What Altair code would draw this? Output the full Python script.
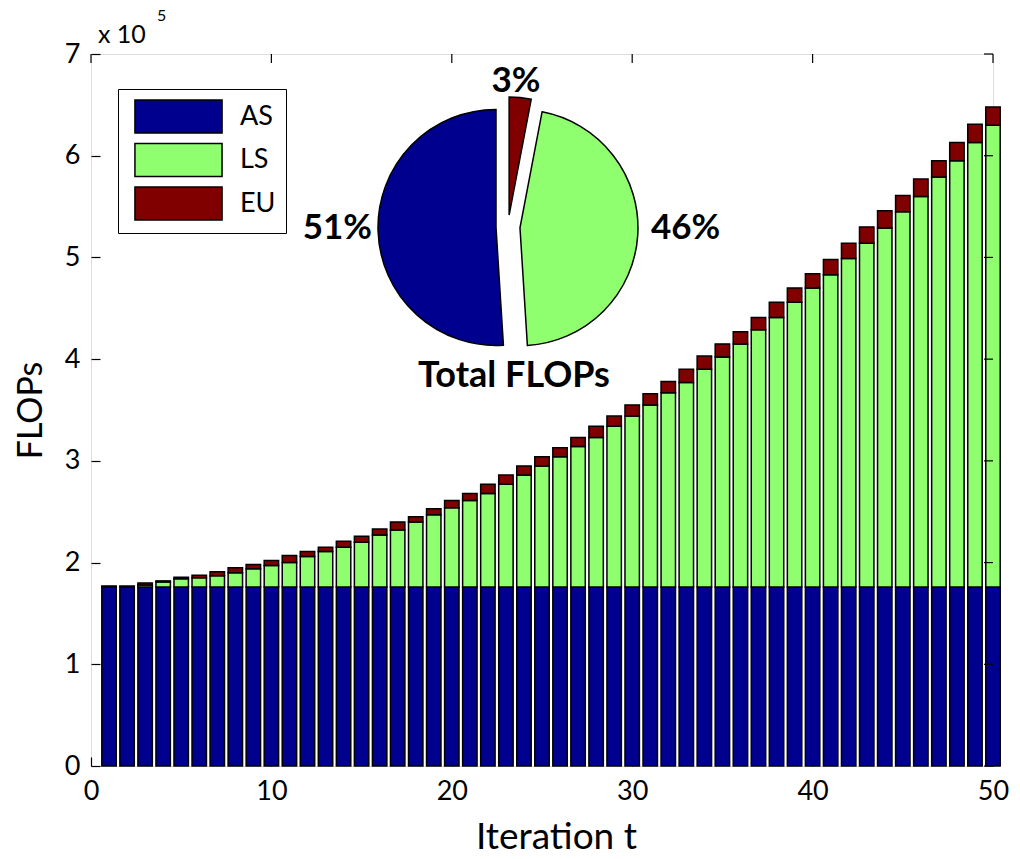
import math
import altair as alt
import pandas as pd

# ---------------- data (FLOPs in units of 1e5) ----------------
iterations = list(range(1, 51))
series = ["AS", "LS", "EU"]
colors = ["#00008F", "#8FFF70", "#800000"]

as_flops = [1.76] * 50
ls_flops = [0.00, 0.00, 0.02, 0.05, 0.08, 0.09, 0.11, 0.14, 0.18, 0.21,
            0.24, 0.30, 0.35, 0.39, 0.44, 0.51, 0.56, 0.64, 0.71, 0.78,
            0.85, 0.92, 1.01, 1.10, 1.19, 1.28, 1.38, 1.47, 1.58, 1.68,
            1.79, 1.91, 2.01, 2.14, 2.26, 2.39, 2.53, 2.65, 2.80, 2.94,
            3.07, 3.23, 3.38, 3.53, 3.69, 3.84, 4.03, 4.19, 4.37, 4.54]
eu_flops = [0.01, 0.01, 0.02, 0.01, 0.015, 0.025, 0.04, 0.05, 0.04, 0.05,
            0.07, 0.05, 0.04, 0.06, 0.06, 0.06, 0.08, 0.05, 0.06, 0.07,
            0.07, 0.09, 0.09, 0.09, 0.09, 0.09, 0.09, 0.11, 0.10, 0.11,
            0.11, 0.11, 0.13, 0.13, 0.13, 0.12, 0.12, 0.15, 0.14, 0.14,
            0.15, 0.15, 0.16, 0.17, 0.16, 0.17, 0.16, 0.18, 0.18, 0.18]

pie_series = ["AS", "LS", "EU"]
pie_pct = [51, 46, 3]
pie_title = "Total FLOPs"

x_ticks = [0, 10, 20, 30, 40, 50]
y_ticks = [0, 1, 2, 3, 4, 5, 6, 7]

# ---------------- layout ----------------
W, H = 902, 712
FONT = "Lato"
color_of = dict(zip(series, colors))

rows = []
for i, t in enumerate(iterations):
    for k, (s, vals) in enumerate(zip(series, [as_flops, ls_flops, eu_flops])):
        rows.append({"t": t, "series": s, "value": vals[i], "order": k})
bar_df = pd.DataFrame(rows)

bars = (
    alt.Chart(bar_df)
    .transform_stack(stack="value", groupby=["t"], as_=["y0", "y1"],
                     sort=[alt.SortField(field="order", order="ascending")])
    .transform_calculate(xa="datum.t - 0.4", xb="datum.t + 0.4")
    .mark_rect(stroke="black", strokeWidth=1.5)
    .encode(
        x=alt.X("xa:Q", title="Iteration t",
                scale=alt.Scale(domain=[0, 50], nice=False, zero=False),
                axis=alt.Axis(values=x_ticks, offset=-9, tickSize=9, domain=False, grid=False,
                              labelFlush=False,
                              labelPadding=12, labelFont=FONT, labelFontSize=27, labelColor="black",
                              tickColor="black", tickWidth=1.2, titleFont=FONT, titleFontSize=37,
                              titleFontWeight="normal", titleColor="black", titlePadding=15,
                              titleX=465, format="d")),
        x2="xb:Q",
        y=alt.Y("y0:Q", title="FLOPs",
                scale=alt.Scale(domain=[0, 7], nice=False),
                axis=alt.Axis(values=y_ticks, offset=-9, tickSize=9, domain=False, grid=False,
                              labelFlush=False,
                              labelPadding=11, labelFont=FONT, labelFontSize=27, labelColor="black",
                              tickColor="black", tickWidth=1.2, titleFont=FONT, titleFontSize=34,
                              titleFontWeight="normal", titleColor="black", titlePadding=16,
                              format="d")),
        y2="y1:Q",
        color=alt.Color("series:N",
                        scale=alt.Scale(domain=series, range=colors),
                        legend=alt.Legend(
                            title=None, orient="none", legendX=27, legendY=35,
                            symbolType="M-2.64,-1H2.64V1H-2.64Z", symbolSize=1089,
                            symbolStrokeColor="black", symbolStrokeWidth=1.5,
                            symbolOpacity=1,
                            symbolOffset=33, labelOffset=44,
                            labelFont=FONT, labelFontSize=27, labelColor="black",
                            padding=10, rowPadding=4.5, strokeColor="black",
                            fillColor="white")),
    )
)

# inward ticks on top and right edges
top_ticks = alt.Chart(pd.DataFrame({"v": x_ticks})).mark_rule(color="black", strokeWidth=1.2).encode(
    x="v:Q", y=alt.value(0), y2=alt.value(9))
right_ticks = alt.Chart(pd.DataFrame({"v": y_ticks})).mark_rule(color="black", strokeWidth=1.2).encode(
    y="v:Q", x=alt.value(W), x2=alt.value(W - 9))

# exponent label
exp_base = alt.Chart(pd.DataFrame({"s": ["x 10"]})).mark_text(
    font=FONT, fontSize=25, align="left", baseline="alphabetic", color="black").encode(
    text="s:N", x=alt.value(7), y=alt.value(-11))
exp_pow = alt.Chart(pd.DataFrame({"s": ["5"]})).mark_text(
    font=FONT, fontSize=16, align="left", baseline="alphabetic", color="black").encode(
    text="s:N", x=alt.value(66), y=alt.value(-33))

# ---------------- pie inset ----------------
CX, CY, R, EXPLODE = 417, 173, 118, 12
# clockwise from top: EU, LS, AS
cw_order = ["EU", "LS", "AS"]
pie_df = pd.DataFrame({"series": pie_series, "pct": pie_pct})
pie_df["cw"] = pie_df["series"].map({s: i for i, s in enumerate(cw_order)})
pie_df = pie_df.sort_values("cw").reset_index(drop=True)
pie_df["end"] = pie_df["pct"].cumsum()
pie_df["start"] = pie_df["end"] - pie_df["pct"]

pie_layers = []
for _, r in pie_df.iterrows():
    mid = (r["start"] + r["end"]) / 2 / 100 * 2 * math.pi
    dx = EXPLODE * math.sin(mid)
    dy = -EXPLODE * math.cos(mid)
    layer = (
        alt.Chart(pie_df)
        .transform_filter(alt.datum.series == r["series"])
        .mark_arc(outerRadius=R, stroke="black", strokeWidth=1.5,
                  fill=color_of[r["series"]], xOffset=dx, yOffset=dy)
        .encode(
            theta=alt.Theta("start:Q", scale=alt.Scale(domain=[0, 100], range=[0, 2 * math.pi])),
            theta2="end:Q",
            x=alt.value(CX), y=alt.value(CY),
        )
    )
    pie_layers.append(layer)

lab = dict(zip(pie_series, pie_pct))
pie_text_as = alt.Chart(pd.DataFrame({"s": [f"{lab['AS']}%"]})).mark_text(
    font=FONT, fontSize=35, fontWeight="bold", align="right", baseline="middle", color="black").encode(
    text="s:N", x=alt.value(281), y=alt.value(174))
pie_text_ls = alt.Chart(pd.DataFrame({"s": [f"{lab['LS']}%"]})).mark_text(
    font=FONT, fontSize=35, fontWeight="bold", align="left", baseline="middle", color="black").encode(
    text="s:N", x=alt.value(560), y=alt.value(174))
pie_text_eu = alt.Chart(pd.DataFrame({"s": [f"{lab['EU']}%"]})).mark_text(
    font=FONT, fontSize=35, fontWeight="bold", align="center", baseline="alphabetic", color="black").encode(
    text="s:N", x=alt.value(425), y=alt.value(38))
pie_text_title = alt.Chart(pd.DataFrame({"s": [pie_title]})).mark_text(
    font=FONT, fontSize=36, fontWeight="bold", align="center", baseline="alphabetic", color="black").encode(
    text="s:N", x=alt.value(423), y=alt.value(333))

chart = (
    alt.layer(bars, top_ticks, right_ticks, exp_base, exp_pow, *pie_layers,
              pie_text_as, pie_text_ls, pie_text_eu, pie_text_title)
    .properties(width=W, height=H,
                autosize=alt.AutoSizeParams(type="none"),
                padding={"left": 91, "top": 54, "right": 27, "bottom": 93})
    .configure_view(stroke="black", strokeWidth=1.2)
    .configure(background="white")
)

chart.save("out.html", embed_options={"renderer": "svg", "actions": False})
